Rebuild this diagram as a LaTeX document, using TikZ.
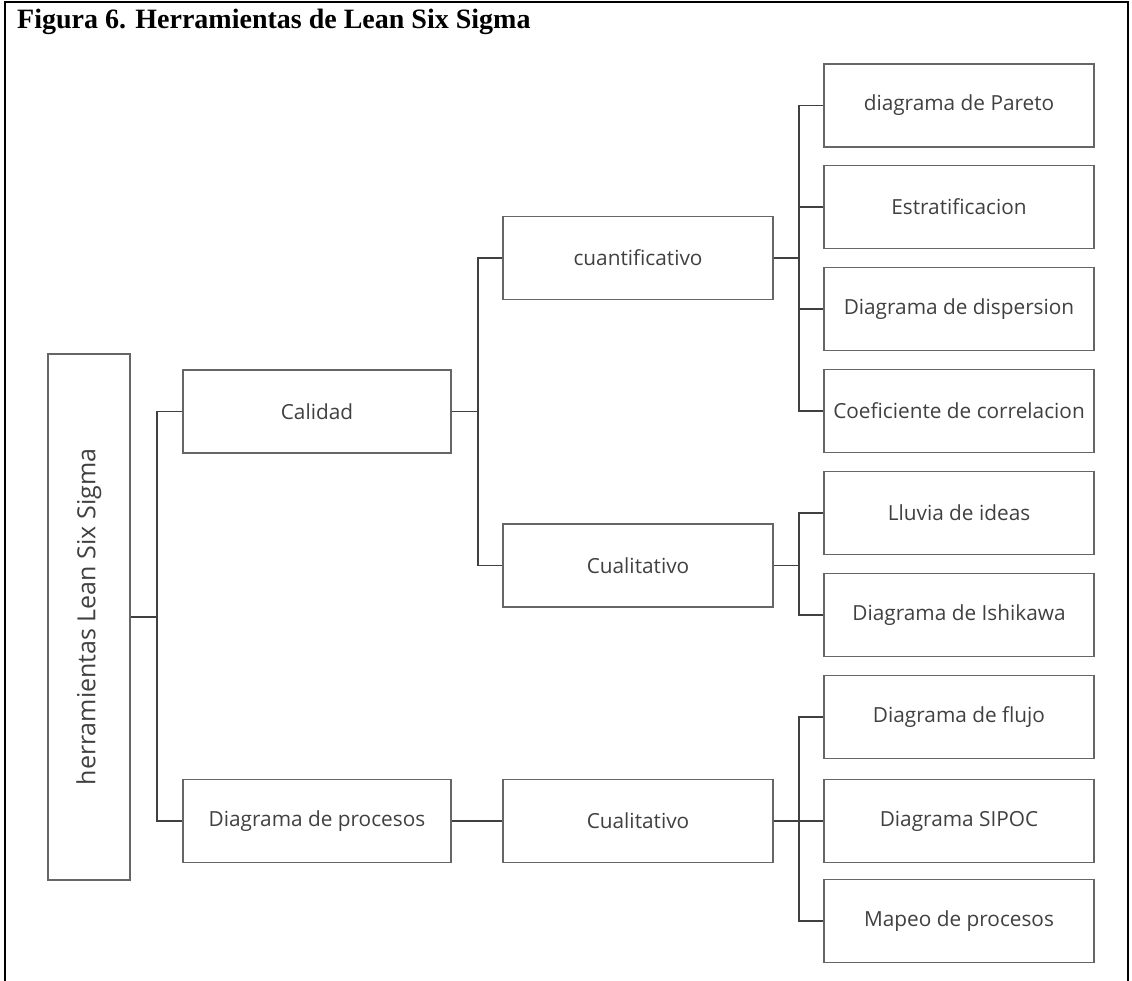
\documentclass[tikz,border=0pt]{standalone}
\usepackage{fontspec}
\setmainfont{Liberation Serif}
\setsansfont{Open Sans}
\usetikzlibrary{calc}

\tikzset{
  box/.style={draw=black!60, line width=1.4pt, minimum width=270pt, minimum height=83pt,
    inner sep=0pt, text=black!75, font=\sffamily\fontsize{20.8}{24}\selectfont},
  link/.style={draw=black!75, line width=1.8pt},
}

\begin{document}
\begin{tikzpicture}[x=1pt,y=-1pt]
\useasboundingbox (0,0) rectangle (1132,981);
% frame and title
\draw [line width=2.5pt] (5,981) -- (5,2) -- (1128,2) -- (1128,981);
\node [anchor=base west, inner sep=0pt, font=\bfseries\fontsize{28}{30}\selectfont] (title) at (17,29) {Figura 6. Herramientas de Lean Six Sigma};

% boxes
\node [box, minimum width=526pt, minimum height=82pt, rotate=90,
  font=\sffamily\fontsize{25}{28}\selectfont] (root) at (89,617) {herramientas Lean Six Sigma};
\node [box, minimum width=268pt] (calidad) at (317,411.5) {Calidad};
\node [box, minimum width=268pt] (procesos) at (317,821) {Diagrama de procesos};
\node [box] (cuanti) at (638,258) {cuantificativo};
\node [box] (cuali) at (638,565.5) {Cualitativo};
\node [box] (cualiproc) at (638,821) {Cualitativo};
\foreach \name/\y/\txt in {pareto/105.5/diagrama de Pareto, estrat/207/Estratificacion,
    disp/309/Diagrama de dispersion, coef/411/Coeficiente de correlacion,
    lluvia/513/Lluvia de ideas, ishi/615/Diagrama de Ishikawa,
    flujo/717/Diagrama de flujo, sipoc/821/Diagrama SIPOC, mapeo/921/Mapeo de procesos}
  \node [box] (\name) at (959,\y) {\txt};

% connectors
\coordinate (j0) at (157,0);
\coordinate (j1) at (478,0);
\coordinate (j2) at (799,0);
\draw [link] (root.south) -- (root.south -| j0);
\draw [link] (calidad.west) -- (calidad.west -| j0) -- (procesos.west -| j0) -- (procesos.west);
\draw [link] (calidad.east) -- (calidad.east -| j1);
\draw [link] (cuanti.west) -- (cuanti.west -| j1) -- (cuali.west -| j1) -- (cuali.west);
\draw [link] (cuanti.east) -- (cuanti.east -| j2);
\draw [link] (pareto.west) -- (pareto.west -| j2) -- (coef.west -| j2) -- (coef.west);
\foreach \n in {estrat,disp}
  \draw [link] (\n.west) -- (\n.west -| j2);
\draw [link] (cuali.east) -- (cuali.east -| j2);
\draw [link] (lluvia.west) -- (lluvia.west -| j2) -- (ishi.west -| j2) -- (ishi.west);
\draw [link] (procesos.east) -- (cualiproc.west);
\draw [link] (cualiproc.east) -- (sipoc.west);
\draw [link] (flujo.west) -- (flujo.west -| j2) -- (mapeo.west -| j2) -- (mapeo.west);
\end{tikzpicture}
\end{document}
